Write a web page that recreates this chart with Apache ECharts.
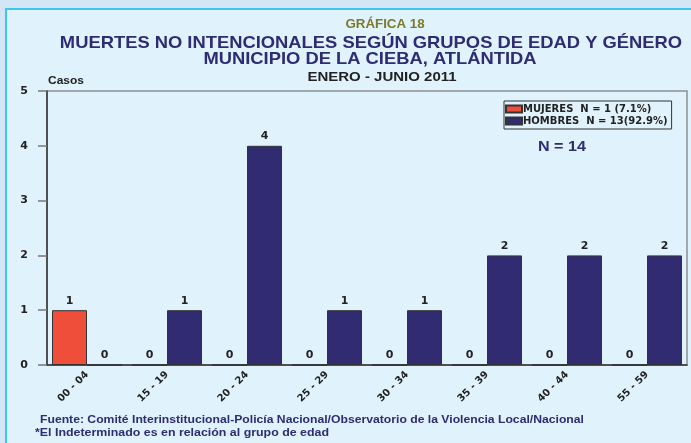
<!DOCTYPE html>
<html>
<head>
<meta charset="utf-8">
<script src="https://cdn.jsdelivr.net/npm/echarts@6/dist/echarts.min.js"></script>
<style>
html,body{margin:0;padding:0;background:#d3e6f5;}
#c{width:691px;height:443px;}
</style>
</head>
<body>
<div id="c"></div>
<script>
const categories = ['00 - 04','15 - 19','20 - 24','25 - 29','30 - 34','35 - 39','40 - 44','55 - 59'];
const mujeres = [1,0,0,0,0,0,0,0];
const hombres = [0,1,4,1,1,2,2,2];
const yTicks = [0,1,2,3,4,5];
const seriesNames = ['MUJERES  N = 1 (7.1%)','HOMBRES  N = 13(92.9%)'];
const titleTop = 'GRÁFICA 18';
const titleLine1 = 'MUERTES NO INTENCIONALES SEGÚN GRUPOS DE EDAD Y GÉNERO';
const titleLine2 = 'MUNICIPIO DE LA CIEBA, ATLÁNTIDA';
const subTitle = 'ENERO - JUNIO 2011';
const yName = 'Casos';
const totalText = 'N = 14';
const footer1 = 'Fuente: Comité Interinstitucional-Policía Nacional/Observatorio de la Violencia Local/Nacional';
const footer2 = '*El Indeterminado es en relación al grupo de edad';

const FF = '"Liberation Sans", Arial, sans-serif';
const FW = '"DejaVu Sans", sans-serif';
const chart = echarts.init(document.getElementById('c'));
const labelStyle = {show:true, position:'top', fontFamily:FW, fontWeight:'bold', fontSize:11, color:'#222', distance:4};
function txt(s, x, y, size, color, sx, align){
  return {type:'text', x:x, y:y, scaleX:sx, style:{text:s, font:'bold '+size+'px '+FF, fill:color, textAlign:align||'center', textVerticalAlign:'middle'}};
}
chart.setOption({
  backgroundColor:'#d3e6f5',
  animation:false,
  graphic:[
    {type:'rect', z:-10, shape:{x:6, y:9, width:700, height:450}, style:{fill:'#e0f2fb', stroke:'#3cc6ef', lineWidth:2}},
    txt(titleTop, 385, 25, 12, '#7b7a2c', 1.11),
    txt(titleLine1, 371, 43, 17, '#2e2c72', 1.08),
    txt(titleLine2, 370, 59, 17, '#2e2c72', 1.08),
    txt(subTitle, 382, 78, 12.5, '#222', 1.2),
    txt(yName, 48, 81, 10.5, '#222', 1.14, 'left'),
    txt(totalText, 538, 147, 14, '#2e2c72', 1.15, 'left'),
    txt(footer1, 40, 420, 10.5, '#2e2c72', 1.16, 'left'),
    txt(footer2, 35, 433, 10.5, '#2e2c72', 1.18, 'left')
  ],
  grid:{left:47, right:4, top:91, bottom:78, show:true, borderColor:'#8a8f94', borderWidth:1.5, backgroundColor:'transparent'},
  legend:{
    orient:'vertical', left:504, top:101, padding:[2,4,2,1], itemGap:0,
    borderColor:'#333', borderWidth:1, backgroundColor:'#e0f2fb',
    itemWidth:16, itemHeight:7, icon:'rect',
    textStyle:{fontFamily:FW, fontWeight:'bold', fontSize:10, color:'#222', padding:[0,0,0,-4], lineHeight:12},
    data:seriesNames
  },
  xAxis:{
    type:'category', data:categories,
    axisLine:{lineStyle:{color:'#333', width:1.5}},
    axisTick:{alignWithLabel:true, length:7, lineStyle:{color:'#555'}},
    axisLabel:{rotate:45, margin:8, fontFamily:FW, fontWeight:'bold', fontSize:10, color:'#222'}
  },
  yAxis:{
    type:'value', min:yTicks[0], max:yTicks[yTicks.length-1], interval:1,
    axisLine:{show:true, lineStyle:{color:'#333', width:1.5}},
    axisTick:{show:true, length:9, lineStyle:{color:'#777', width:1.5}},
    splitLine:{show:false},
    axisLabel:{margin:19, fontFamily:FW, fontWeight:'bold', fontSize:11, color:'#222'}
  },
  series:[
    {name:seriesNames[0], type:'bar', data:mujeres, barWidth:35, barGap:'0%',
     itemStyle:{color:'#ef4e3b', borderColor:'#333', borderWidth:1}, label:labelStyle},
    {name:seriesNames[1], type:'bar', data:hombres, barWidth:35, barGap:'0%',
     itemStyle:{color:'#312b71', borderColor:'#333', borderWidth:1}, label:labelStyle}
  ]
});
</script>
</body>
</html>
